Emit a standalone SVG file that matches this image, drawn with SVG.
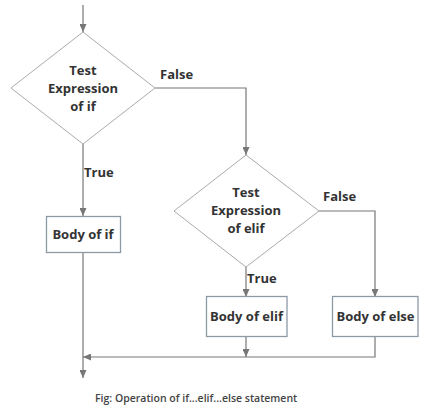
<svg xmlns="http://www.w3.org/2000/svg" width="441" height="412" viewBox="0 0 441 412">
<defs>
<marker id="ah" viewBox="0 0 10 10" refX="10" refY="5" markerWidth="8" markerHeight="7" markerUnits="userSpaceOnUse" orient="auto" preserveAspectRatio="none">
<path d="M0,0 L10,5 L0,10 Z" fill="#777"/>
</marker>
</defs>
<style>
.dia{fill:#fff;stroke:#aaa;stroke-width:1}
.box{fill:#fff;stroke:#8c9aa6;stroke-width:1.3}
.t{font-family:"Open Sans","Noto Sans",sans-serif;font-weight:bold;font-size:13px;fill:#333;text-anchor:middle}
.l{font-family:"Open Sans","Noto Sans",sans-serif;font-weight:bold;font-size:13px;fill:#333}
.c{fill:none;stroke:#777;stroke-width:1.2}
.cap{font-family:"Open Sans","Noto Sans",sans-serif;font-weight:600;font-size:10.5px;fill:#444}
</style>
<rect width="441" height="412" fill="#fff"/>
<g id="connectors">
<path class="c" d="M83,5 V32" marker-end="url(#ah)"/>
<path class="c" d="M155,88 H246 V155" marker-end="url(#ah)"/>
<path class="c" d="M83,144 V216" marker-end="url(#ah)"/>
<path class="c" d="M319,211 H375 V297" marker-end="url(#ah)"/>
<path class="c" d="M246,267 V297" marker-end="url(#ah)"/>
<path class="c" d="M246,336 V357" marker-end="url(#ah)"/>
<path class="c" d="M375,336 V357 H83" marker-end="url(#ah)"/>
<path class="c" d="M83,252 V378" marker-end="url(#ah)"/>
<text class="l" x="160" y="79">False</text>
<text class="l" x="84" y="177">True</text>
<text class="l" x="323" y="201">False</text>
<text class="l" x="247" y="283">True</text>
</g>
<g id="cond-if">
<polygon class="dia" points="83,32 155,88 83,144 11,88"/>
<text class="t" x="83" y="75">Test</text>
<text class="t" x="83" y="93">Expression</text>
<text class="t" x="83" y="111">of if</text>
</g>
<g id="body-if">
<rect class="box" x="46.5" y="216.5" width="74" height="36"/>
<text class="t" x="83" y="239">Body of if</text>
</g>
<g id="cond-elif">
<polygon class="dia" points="246,155 319,211 246,267 174,211"/>
<text class="t" x="246" y="197">Test</text>
<text class="t" x="246" y="215">Expression</text>
<text class="t" x="246" y="233">of elif</text>
</g>
<g id="body-elif">
<rect class="box" x="206.5" y="296.5" width="80.5" height="40"/>
<text class="t" x="246.5" y="321">Body of elif</text>
</g>
<g id="body-else">
<rect class="box" x="332.5" y="296.5" width="85.5" height="40"/>
<text class="t" x="375.5" y="321">Body of else</text>
</g>
<text class="cap" x="95" y="402">Fig: Operation of if...elif...else statement</text>
</svg>
